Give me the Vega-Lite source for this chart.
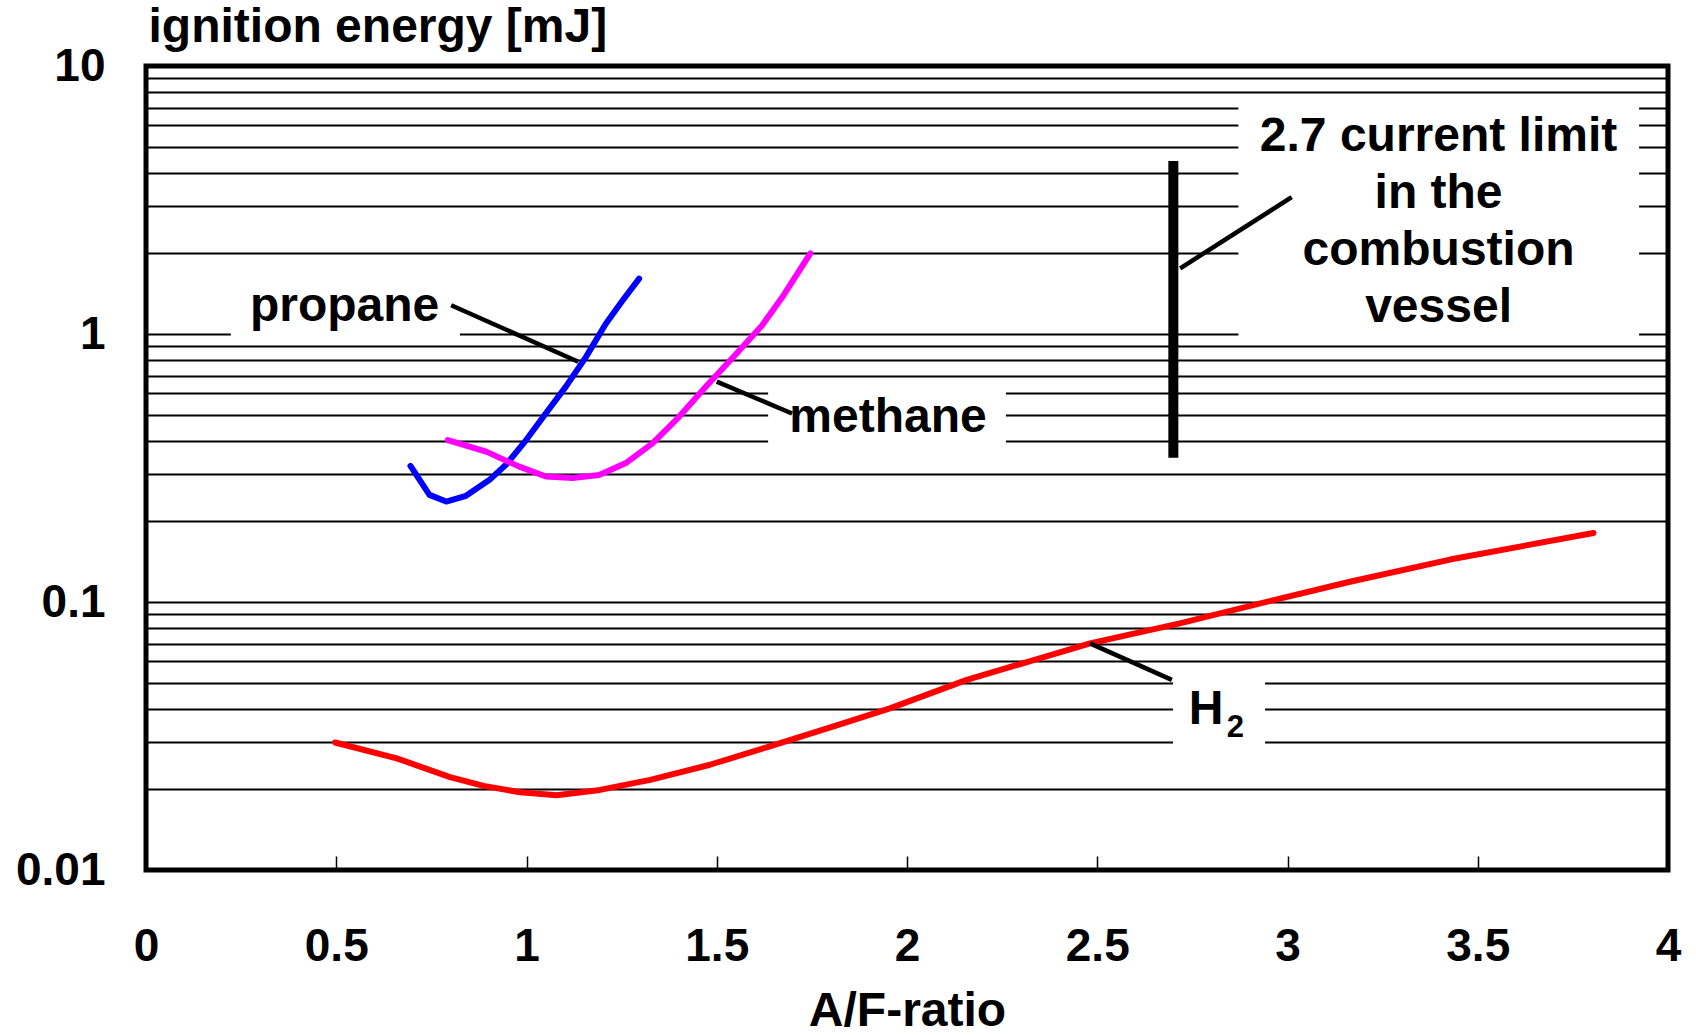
{
  "$schema": "https://vega.github.io/schema/vega-lite/v6.json",
  "width": 1522,
  "height": 804,
  "autosize": {"type": "none"},
  "padding": {"left": 146, "top": 66, "right": 28, "bottom": 165},
  "background": "white",
  "config": {
    "view": {"stroke": "black", "strokeWidth": 5},
    "font": "Liberation Sans"
  },
  "datasets": {
    "curves": [
      {"gas": "propane", "x": 0.695, "y": 0.322},
      {"gas": "propane", "x": 0.745, "y": 0.251},
      {"gas": "propane", "x": 0.789, "y": 0.237},
      {"gas": "propane", "x": 0.841, "y": 0.249},
      {"gas": "propane", "x": 0.902, "y": 0.285},
      {"gas": "propane", "x": 0.946, "y": 0.325},
      {"gas": "propane", "x": 0.999, "y": 0.402},
      {"gas": "propane", "x": 1.051, "y": 0.506},
      {"gas": "propane", "x": 1.103, "y": 0.635},
      {"gas": "propane", "x": 1.156, "y": 0.82},
      {"gas": "propane", "x": 1.208, "y": 1.09},
      {"gas": "propane", "x": 1.252, "y": 1.33},
      {"gas": "propane", "x": 1.296, "y": 1.61},
      {"gas": "methane", "x": 0.793, "y": 0.402},
      {"gas": "methane", "x": 0.894, "y": 0.364},
      {"gas": "methane", "x": 0.981, "y": 0.32},
      {"gas": "methane", "x": 1.051, "y": 0.294},
      {"gas": "methane", "x": 1.121, "y": 0.29},
      {"gas": "methane", "x": 1.191, "y": 0.298},
      {"gas": "methane", "x": 1.261, "y": 0.33},
      {"gas": "methane", "x": 1.331, "y": 0.391},
      {"gas": "methane", "x": 1.401, "y": 0.491},
      {"gas": "methane", "x": 1.471, "y": 0.635},
      {"gas": "methane", "x": 1.54, "y": 0.81},
      {"gas": "methane", "x": 1.619, "y": 1.076},
      {"gas": "methane", "x": 1.672, "y": 1.37},
      {"gas": "methane", "x": 1.746, "y": 2.0},
      {"gas": "H2", "x": 0.497, "y": 0.0299},
      {"gas": "H2", "x": 0.659, "y": 0.0261},
      {"gas": "H2", "x": 0.799, "y": 0.0222},
      {"gas": "H2", "x": 0.887, "y": 0.0206},
      {"gas": "H2", "x": 0.983, "y": 0.0195},
      {"gas": "H2", "x": 1.079, "y": 0.019},
      {"gas": "H2", "x": 1.193, "y": 0.0199},
      {"gas": "H2", "x": 1.325, "y": 0.0217},
      {"gas": "H2", "x": 1.482, "y": 0.0247},
      {"gas": "H2", "x": 1.631, "y": 0.0287},
      {"gas": "H2", "x": 1.809, "y": 0.0344},
      {"gas": "H2", "x": 1.955, "y": 0.0401},
      {"gas": "H2", "x": 2.157, "y": 0.0512},
      {"gas": "H2", "x": 2.481, "y": 0.0701},
      {"gas": "H2", "x": 2.717, "y": 0.0832},
      {"gas": "H2", "x": 2.98, "y": 0.103},
      {"gas": "H2", "x": 3.164, "y": 0.119},
      {"gas": "H2", "x": 3.427, "y": 0.144},
      {"gas": "H2", "x": 3.804, "y": 0.181}
    ],
    "boxes": [
      {"x": 0.223, "x2": 0.825, "y": 0.95, "y2": 1.85},
      {"x": 1.635, "x2": 2.26, "y": 0.354, "y2": 0.65},
      {"x": 2.871, "x2": 3.924, "y": 0.95, "y2": 7.6},
      {"x": 2.699, "x2": 2.941, "y": 0.0247, "y2": 0.0548}
    ],
    "callouts": [
      {"x": 0.802, "y": 1.28, "x2": 1.136, "y2": 0.788},
      {"x": 1.5, "y": 0.664, "x2": 1.698, "y2": 0.505},
      {"x": 2.718, "y": 1.758, "x2": 3.011, "y2": 3.24},
      {"x": 2.481, "y": 0.0701, "x2": 2.696, "y2": 0.0512}
    ],
    "limit": [
      {"x": 2.7, "y": 0.345, "y2": 4.42}
    ],
    "labels": [
      {"text": "propane", "x": 0.522, "y": 1.12},
      {"text": "methane", "x": 1.95, "y": 0.432},
      {"text": "2.7 current limit\nin the\ncombustion\nvessel", "x": 3.397, "y": 4.8},
      {"text": "H", "x": 2.786, "y": 0.0351}
    ],
    "subscripts": [
      {"text": "2", "x": 2.863, "y": 0.0313}
    ]
  },
  "encoding": {
    "x": {
      "field": "x",
      "type": "quantitative",
      "scale": {"domain": [0, 4], "nice": false, "zero": false},
      "axis": {
        "title": "A/F-ratio",
        "values": [0, 0.5, 1, 1.5, 2, 2.5, 3, 3.5, 4],
        "format": "~g",
        "grid": false,
        "domain": false,
        "ticks": true,
        "tickSize": -14,
        "tickColor": "black",
        "tickWidth": 1.5,
        "labelFont": "Liberation Sans",
        "labelFontSize": 46,
        "labelFontWeight": "bold",
        "labelColor": "black",
        "labelPadding": 68,
        "labelFlush": false,
        "labelOverlap": false,
        "labelBound": false,
        "titleFont": "Liberation Sans",
        "titleFontSize": 48,
        "titleFontWeight": "bold",
        "titleColor": "black",
        "titleBaseline": "alphabetic",
        "titleY": 155
      }
    },
    "y": {
      "field": "y",
      "type": "quantitative",
      "scale": {"type": "log", "domain": [0.01, 10], "nice": false},
      "axis": {
        "title": "ignition energy [mJ]",
        "titleAngle": 0,
        "titleAlign": "left",
        "titleBaseline": "alphabetic",
        "titleX": 2,
        "titleY": -25,
        "titleFont": "Liberation Sans",
        "titleFontSize": 48,
        "titleFontWeight": "bold",
        "titleColor": "black",
        "values": [0.01, 0.02, 0.03, 0.04, 0.05, 0.06, 0.07, 0.08, 0.09, 0.1, 0.2, 0.3, 0.4, 0.5, 0.6, 0.7, 0.8, 0.9, 1, 2, 3, 4, 5, 6, 7, 8, 9, 10],
        "labelExpr": "datum.value == 10 ? '10' : datum.value == 1 ? '1' : datum.value == 0.1 ? '0.1' : datum.value == 0.01 ? '0.01' : ''",
        "grid": true,
        "gridColor": "black",
        "gridWidth": 2,
        "gridOpacity": 1,
        "domain": false,
        "ticks": false,
        "tickSize": 0,
        "labelPadding": 41,
        "labelFont": "Liberation Sans",
        "labelFontSize": 46,
        "labelFontWeight": "bold",
        "labelColor": "black",
        "labelFlush": false,
        "labelOverlap": false,
        "labelBound": false
      }
    }
  },
  "layer": [
    {
      "data": {"name": "boxes"},
      "mark": {"type": "rect", "fill": "white", "stroke": null},
      "encoding": {
        "x2": {"field": "x2"},
        "y2": {"field": "y2"}
      }
    },
    {
      "data": {"name": "curves"},
      "mark": {"type": "line", "strokeWidth": 6, "strokeCap": "round", "strokeJoin": "round"},
      "encoding": {
        "color": {
          "field": "gas",
          "type": "nominal",
          "scale": {"domain": ["propane", "methane", "H2"], "range": ["#0000FF", "#FF00FF", "#FF0000"]},
          "legend": null
        }
      }
    },
    {
      "data": {"name": "callouts"},
      "mark": {"type": "rule", "color": "black", "strokeWidth": 4.5},
      "encoding": {
        "x2": {"field": "x2"},
        "y2": {"field": "y2"}
      }
    },
    {
      "data": {"name": "limit"},
      "mark": {"type": "rule", "color": "black", "strokeWidth": 10, "strokeCap": "butt"},
      "encoding": {
        "y2": {"field": "y2"}
      }
    },
    {
      "data": {"name": "labels"},
      "mark": {"type": "text", "font": "Liberation Sans", "fontWeight": "bold", "fontSize": 48, "align": "center", "baseline": "alphabetic", "lineBreak": "\n", "lineHeight": 57, "color": "black"},
      "encoding": {
        "text": {"field": "text"}
      }
    },
    {
      "data": {"name": "subscripts"},
      "mark": {"type": "text", "font": "Liberation Sans", "fontWeight": "bold", "fontSize": 31, "align": "center", "baseline": "alphabetic", "color": "black"},
      "encoding": {
        "text": {"field": "text"}
      }
    }
  ]
}
